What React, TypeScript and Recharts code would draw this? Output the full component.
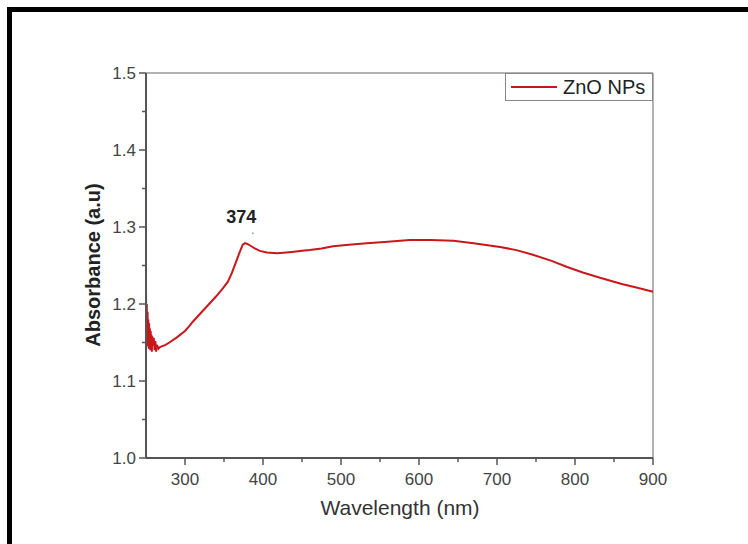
import React from 'react';
import { LineChart, Line, XAxis, YAxis, ReferenceLine, ReferenceDot } from 'recharts';

// UV-Vis absorbance of ZnO nanoparticles
const wavelength = [
  250, 250.5, 251, 251.5, 252, 252.5, 253, 253.5, 254, 254.5, 255, 255.5, 256, 256.5, 257, 257.5, 258, 259, 260, 261, 262, 263, 264, 266, 268, 270,
  275, 280, 290, 300, 306, 310, 320, 330, 340, 349, 355, 360, 367, 370, 374, 377, 380,
  385, 390, 396, 405, 418, 430, 440, 450, 460, 475, 490, 510, 533, 560, 588, 615, 644, 670,
  704, 725, 746, 770, 790, 810, 832, 860, 880, 900,
];
const absorbance = [
  1.225, 1.15, 1.2, 1.145, 1.19, 1.15, 1.18, 1.142, 1.175, 1.146, 1.168, 1.14, 1.165, 1.145, 1.16, 1.138, 1.158, 1.146, 1.156, 1.14, 1.152, 1.138, 1.147, 1.142, 1.144, 1.145,
  1.147, 1.15, 1.157, 1.165, 1.172, 1.177, 1.188, 1.199, 1.21, 1.221, 1.229, 1.24, 1.259, 1.267, 1.277, 1.279, 1.278,
  1.275, 1.272, 1.269, 1.267, 1.266, 1.267, 1.268, 1.269, 1.27, 1.272, 1.275, 1.277, 1.279, 1.281, 1.283, 1.283, 1.282, 1.279,
  1.274, 1.27, 1.264, 1.256, 1.248, 1.241, 1.234, 1.226, 1.221, 1.216,
];
const xTicks = [300, 350, 400, 450, 500, 550, 600, 650, 700, 750, 800, 850, 900];
const yTicks = [1.0, 1.05, 1.1, 1.15, 1.2, 1.25, 1.3, 1.35, 1.4, 1.45, 1.5];

const data = wavelength.map((w, i) => ({ w, a: absorbance[i] }));

const FONT = '"Liberation Sans", Arial, sans-serif';
const AXIS = '#555';
const RED = '#c8181c';

const XTick = (props: any) => {
  const { x, y, payload } = props;
  const major = payload.value % 100 === 0;
  return (
    <g>
      <line x1={x} x2={x} y1={y} y2={y + (major ? 7 : 4)} stroke={AXIS} strokeWidth={1.5} />
      {major && (
        <text x={x} y={y + 27} textAnchor="middle" fontSize={17} fill="#444" fontFamily={FONT}>
          {payload.value}
        </text>
      )}
    </g>
  );
};

const YTick = (props: any) => {
  const { x, y, payload } = props;
  const major = Math.round(payload.value * 100) % 10 === 0;
  return (
    <g>
      <line x1={x} x2={x - (major ? 7 : 4)} y1={y} y2={y} stroke={AXIS} strokeWidth={1.5} />
      {major && (
        <text x={x - 10} y={y + 6} textAnchor="end" fontSize={17} fill="#444" fontFamily={FONT}>
          {payload.value.toFixed(1)}
        </text>
      )}
    </g>
  );
};

export default function App() {
  return (
    <div style={{ position: 'absolute', left: 0, top: 0, width: 748, height: 544, background: '#fff', overflow: 'hidden' }}>
      {/* black frame of the figure */}
      <div
        style={{
          position: 'absolute',
          left: 7,
          top: 7,
          width: 760,
          height: 560,
          borderTop: '5px solid #000',
          borderLeft: '5px solid #000',
        }}
      />
      <LineChart
        width={748}
        height={544}
        data={data}
        margin={{ top: 73, right: 95, bottom: 36, left: 100 }}
        style={{ position: 'absolute', left: 0, top: 0 }}
      >
        <XAxis
          dataKey="w"
          type="number"
          domain={[250, 900]}
          ticks={xTicks}
          interval={0}
          tickSize={0}
          tickMargin={0}
          tickLine={false}
          tick={<XTick />}
          height={50}
          axisLine={{ stroke: AXIS, strokeWidth: 2 }}
        />
        <YAxis
          type="number"
          domain={[1.0, 1.5]}
          ticks={yTicks}
          interval={0}
          tickSize={0}
          tickMargin={0}
          tickLine={false}
          tick={<YTick />}
          width={46}
          axisLine={{ stroke: AXIS, strokeWidth: 2 }}
        />
        <ReferenceLine y={1.5} stroke="#999" strokeWidth={1.5} />
        <ReferenceLine x={900} stroke="#999" strokeWidth={1.5} />
        <Line
          dataKey="a"
          name="ZnO NPs"
          type="linear"
          stroke={RED}
          strokeWidth={2}
          dot={false}
          isAnimationActive={false}
        />
        <ReferenceDot x={387} y={1.292} r={1} fill="#9ab" stroke="none" />
        <ReferenceDot
          x={372}
          y={1.313}
          r={0}
          stroke="none"
          label={{ value: '374', position: 'center', fontSize: 18, fontWeight: 'bold', fill: '#222', fontFamily: FONT }}
        />
      </LineChart>
      {/* legend */}
      <div
        style={{
          position: 'absolute',
          left: 505,
          top: 73,
          width: 146,
          height: 26,
          border: '1px solid #888',
          background: '#fff',
          display: 'flex',
          alignItems: 'center',
          fontFamily: FONT,
          fontSize: 20,
          color: '#222',
        }}
      >
        <div style={{ width: 46, height: 2, background: RED, marginLeft: 5, marginRight: 6 }} />
        <span>ZnO NPs</span>
      </div>
      <div
        style={{
          position: 'absolute',
          left: 400,
          top: 508,
          transform: 'translate(-50%, -50%)',
          fontFamily: FONT,
          fontSize: 21,
          color: '#333',
          whiteSpace: 'nowrap',
        }}
      >
        Wavelength (nm)
      </div>
      <div
        style={{
          position: 'absolute',
          left: 93,
          top: 265,
          transform: 'translate(-50%, -50%) rotate(-90deg)',
          fontFamily: FONT,
          fontSize: 20,
          fontWeight: 'bold',
          color: '#222',
          whiteSpace: 'nowrap',
        }}
      >
        Absorbance (a.u)
      </div>
    </div>
  );
}
